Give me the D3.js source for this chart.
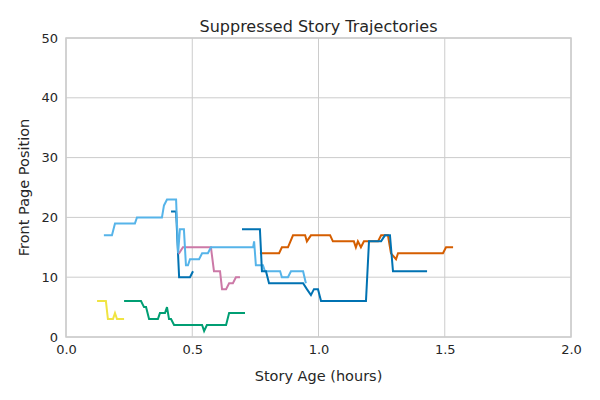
<!DOCTYPE html>
<html>
<head>
<meta charset="utf-8">
<script src="https://cdn.jsdelivr.net/npm/d3@7"></script>
<style>
  body { margin: 0; background: #fff; }
  text { font-family: "DejaVu Sans", sans-serif; fill: #262626; }
</style>
</head>
<body>
<svg id="chart" width="600" height="400"></svg>
<script>
// each story: [hours, front page position]
const storyA = [[0.416,21],[0.436,21],[0.448,10],[0.491,10],[0.503,11]]
const storyB = [[0.23,6],[0.297,6],[0.309,5],[0.317,5],[0.329,3],[0.364,3],[0.372,4],[0.392,4],[0.4,5],[0.408,3],[0.416,3],[0.428,2],[0.539,2],[0.547,1],[0.558,2],[0.634,2],[0.646,4],[0.709,4]]
const storyC = [[0.768,14],[0.844,14],[0.855,15],[0.879,15],[0.899,17],[0.947,17],[0.954,16],[0.97,17],[1.046,17],[1.057,16],[1.14,16],[1.148,15],[1.156,16],[1.168,15],[1.18,16],[1.236,16],[1.248,17],[1.275,17],[1.287,14],[1.307,13],[1.315,14],[1.493,14],[1.505,15],[1.533,15]]
const storyD = [[0.444,14],[0.448,14],[0.463,15],[0.574,15],[0.586,11],[0.61,11],[0.618,8],[0.634,8],[0.646,9],[0.661,9],[0.673,10],[0.689,10]]
const storyE = [[0.123,6],[0.158,6],[0.166,3],[0.186,3],[0.194,4],[0.202,3],[0.23,3]]
const storyF = [[0.15,17],[0.182,17],[0.194,19],[0.273,19],[0.281,20],[0.38,20],[0.388,22],[0.4,23],[0.436,23],[0.444,14],[0.451,18],[0.467,18],[0.475,12],[0.483,12],[0.491,13],[0.527,13],[0.539,14],[0.562,14],[0.574,15],[0.741,15],[0.745,16],[0.752,12],[0.78,12],[0.788,11],[0.848,11],[0.855,10],[0.879,10],[0.891,11],[0.939,11],[0.95,9]]
const storyG = [[0.697,18],[0.768,18],[0.776,11],[0.792,11],[0.804,9],[0.939,9],[0.954,8],[0.97,7],[0.982,8],[0.998,8],[1.01,6],[1.188,6],[1.2,16],[1.248,16],[1.263,17],[1.283,17],[1.295,11],[1.43,11]]

const stories = [storyA, storyB, storyC, storyD, storyE, storyF, storyG]
const colors = ['#0072B2', '#009E73', '#D55E00', '#CC79A7', '#F0E442', '#56B4E9', '#0072B2']
const xTicks = [0, 0.5, 1, 1.5, 2]
const yTicks = [0, 10, 20, 30, 40, 50]

const svg = d3.select('#chart')
const margin = { top: 38, right: 29, bottom: 63, left: 66 }
const w = 600 - margin.left - margin.right
const h = 400 - margin.top - margin.bottom

const x = d3.scaleLinear().domain([0, 2]).range([0, w])
const y = d3.scaleLinear().domain([0, 50]).range([h, 0])

const g = svg.append('g').attr('transform', `translate(${margin.left},${margin.top})`)

// grid
g.append('g').selectAll('line').data(xTicks).join('line')
  .attr('x1', d => x(d)).attr('x2', d => x(d)).attr('y1', 0).attr('y2', h)
  .attr('stroke', '#cccccc')
g.append('g').selectAll('line').data(yTicks).join('line')
  .attr('y1', d => y(d)).attr('y2', d => y(d)).attr('x1', 0).attr('x2', w)
  .attr('stroke', '#cccccc')

const xAxis = g.append('g').attr('transform', `translate(0,${h})`)
  .call(d3.axisBottom(x).tickValues(xTicks).tickFormat(d3.format('.1f')).tickSize(0).tickPadding(8))
const yAxis = g.append('g')
  .call(d3.axisLeft(y).tickValues(yTicks).tickSize(0).tickPadding(8))
xAxis.select('.domain').remove()
yAxis.select('.domain').remove()
svg.selectAll('.tick text').style('font-size', '13px').style('font-family', '"DejaVu Sans", sans-serif').attr('fill', '#262626')

g.append('rect').attr('width', w).attr('height', h)
  .attr('fill', 'none').attr('stroke', '#cccccc').attr('stroke-width', 1.5)

const line = d3.line().x(d => x(d[0])).y(d => y(d[1]))
g.append('g').selectAll('path').data(stories).join('path')
  .attr('d', line)
  .attr('fill', 'none')
  .attr('stroke', (d, i) => colors[i])
  .attr('stroke-width', 2)

svg.append('text').attr('x', margin.left + w / 2).attr('y', 32)
  .attr('text-anchor', 'middle').style('font-size', '16px').text('Suppressed Story Trajectories')
svg.append('text').attr('x', margin.left + w / 2).attr('y', 381)
  .attr('text-anchor', 'middle').style('font-size', '14.5px').text('Story Age (hours)')
svg.append('text').attr('transform', `translate(29,${margin.top + h / 2}) rotate(-90)`)
  .attr('text-anchor', 'middle').style('font-size', '14.5px').text('Front Page Position')
</script>
</body>
</html>
